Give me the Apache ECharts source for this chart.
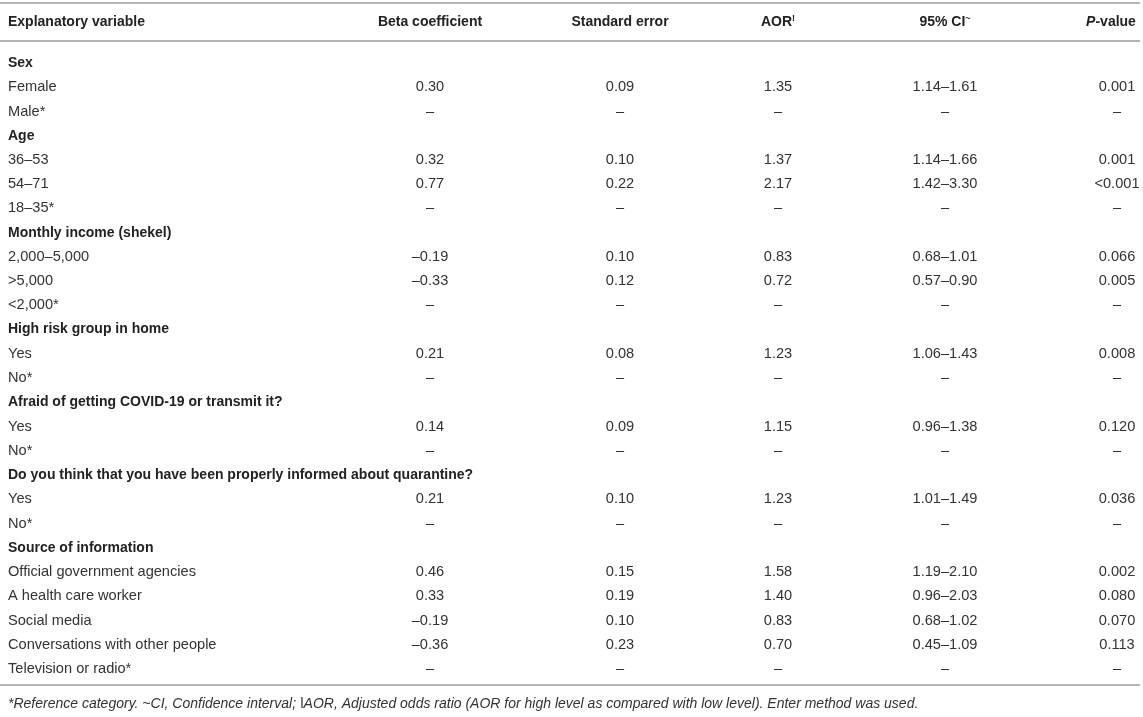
<!DOCTYPE html>
<html>
<head>
<meta charset="utf-8">
<script src="https://cdn.jsdelivr.net/npm/echarts@6/dist/echarts.min.js"></script>
<style>html,body{margin:0;padding:0;background:#fff}#c{width:1143px;height:717px}</style>
</head>
<body>
<div id="c"></div>
<script>
const headers = ['Explanatory variable', 'Beta coefficient', 'Standard error', 'AOR', '95% CI', 'P-value'];
const rowLabels = ['Sex','Female','Male*','Age','36–53','54–71','18–35*','Monthly income (shekel)','2,000–5,000','>5,000','<2,000*','High risk group in home','Yes','No*','Afraid of getting COVID-19 or transmit it?','Yes','No*','Do you think that you have been properly informed about quarantine?','Yes','No*','Source of information','Official government agencies','A health care worker','Social media','Conversations with other people','Television or radio*'];
const isSection = [1,0,0,1,0,0,0,1,0,0,0,1,0,0,1,0,0,1,0,0,1,0,0,0,0,0];
const beta = ['','0.30','–','','0.32','0.77','–','','–0.19','–0.33','–','','0.21','–','','0.14','–','','0.21','–','','0.46','0.33','–0.19','–0.36','–'];
const stdErr = ['','0.09','–','','0.10','0.22','–','','0.10','0.12','–','','0.08','–','','0.09','–','','0.10','–','','0.15','0.19','0.10','0.23','–'];
const aor = ['','1.35','–','','1.37','2.17','–','','0.83','0.72','–','','1.23','–','','1.15','–','','1.23','–','','1.58','1.40','0.83','0.70','–'];
const ci95 = ['','1.14–1.61','–','','1.14–1.66','1.42–3.30','–','','0.68–1.01','0.57–0.90','–','','1.06–1.43','–','','0.96–1.38','–','','1.01–1.49','–','','1.19–2.10','0.96–2.03','0.68–1.02','0.45–1.09','–'];
const pValue = ['','0.001','–','','0.001','<0.001','–','','0.066','0.005','–','','0.008','–','','0.120','–','','0.036','–','','0.002','0.080','0.070','0.113','–'];
const footnote = '*Reference category. ~CI, Confidence interval; ǀAOR, Adjusted odds ratio (AOR for high level as compared with low level). Enter method was used.';

const FONT = 'Liberation Sans, Arial, Helvetica, sans-serif';
const FS = 14.6;
const FSB = 14;
const colX = [8, 430, 620, 778, 945, 1117];
const headX = [8, 430, 620, 778, 945, 1111];
const columns = [rowLabels, beta, stdErr, aor, ci95, pValue];

const chart = echarts.init(document.getElementById('c'), null, {renderer: 'canvas'});

function makeSeries(ci) {
  const col = columns[ci];
  return {
    type: 'custom',
    coordinateSystem: 'cartesian2d',
    silent: true,
    data: col.map((t, i) => [colX[ci], i]),
    renderItem: function (params, api) {
      const i = params.dataIndex;
      const pt = api.coord([api.value(0), api.value(1)]);
      const bold = ci === 0 && isSection[i] === 1;
      return {
        type: 'text',
        x: pt[0], y: pt[1],
        style: {
          text: col[i],
          align: ci === 0 ? 'left' : 'center',
          verticalAlign: 'middle',
          fontFamily: FONT,
          fontSize: bold ? FSB : FS,
          fontWeight: bold ? 'bold' : 'normal',
          fill: bold ? '#222' : '#333'
        }
      };
    }
  };
}

const headRich = {
  b: {fontFamily: FONT, fontSize: FSB, fontWeight: 'bold', fill: '#222'},
  bi: {fontFamily: FONT, fontSize: FSB, fontWeight: 'bold', fontStyle: 'italic', fill: '#222'},
  sup: {fontFamily: FONT, fontSize: 9, fontWeight: 'bold', fill: '#222', verticalAlign: 'top', padding: [0,0,6,0]}
};
const headTexts = [
  '{b|' + headers[0] + '}',
  '{b|' + headers[1] + '}',
  '{b|' + headers[2] + '}',
  '{b|' + headers[3] + '}{sup|!}',
  '{b|' + headers[4] + '}{sup|~}',
  '{bi|P}{b|' + headers[5].slice(1) + '}'
];

const graphics = [];
[3, 41, 685].forEach(y => {
  graphics.push({type: 'line', shape: {x1: 0, y1: y, x2: 1140, y2: y}, style: {stroke: '#b4b4b4', lineWidth: 2}, silent: true});
});
headTexts.forEach((t, i) => {
  graphics.push({
    type: 'text', x: headX[i], y: 22, silent: true,
    style: {text: t, rich: headRich, align: i === 0 ? 'left' : 'center', verticalAlign: 'middle', fontFamily: FONT, fontSize: FSB, fontWeight: 'bold', fill: '#222'}
  });
});
graphics.push({
  type: 'text', x: 8, y: 704, silent: true,
  style: {text: footnote, align: 'left', verticalAlign: 'middle', fontFamily: FONT, fontSize: 14, fontStyle: 'italic', fill: '#333'}
});

chart.setOption({
  animation: false,
  grid: {left: 0, right: 0, top: 50.88, bottom: 35.88},
  xAxis: {type: 'value', min: 0, max: 1143, show: false},
  yAxis: {type: 'value', min: -0.5, max: 25.5, inverse: true, show: false},
  series: columns.map((c, i) => makeSeries(i)),
  graphic: graphics
});
</script>
</body>
</html>
